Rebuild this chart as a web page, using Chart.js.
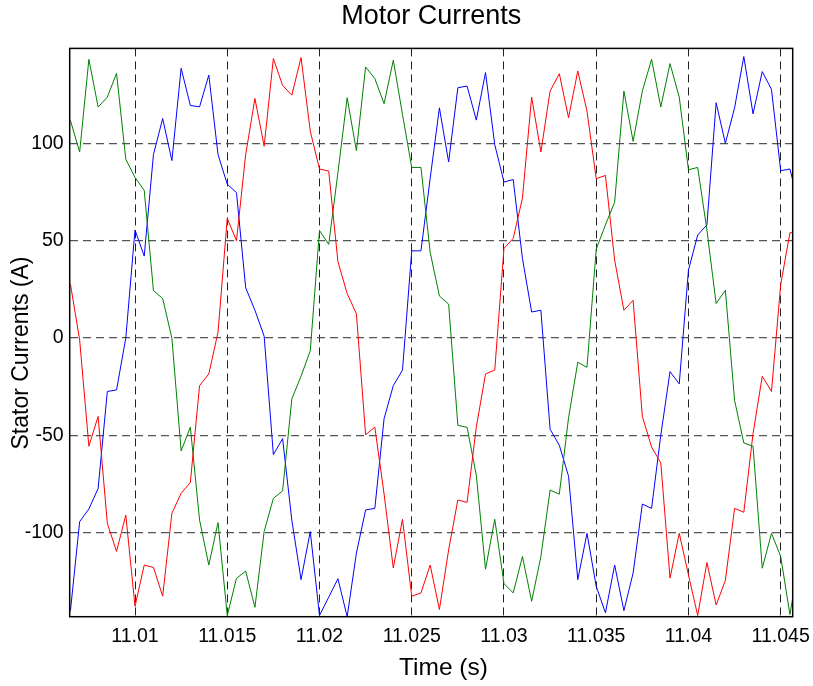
<!DOCTYPE html>
<html>
<head>
<meta charset="utf-8">
<script src="https://cdn.jsdelivr.net/npm/chart.js@4.4.1/dist/chart.umd.min.js"></script>
<style>
body{margin:0;background:#fff}
</style>
</head>
<body>
<canvas id="motorChart" width="813" height="686"></canvas>
<script>

// sampling: 2 kHz starting at 11.0065 s
let t0=11.0065
let dt=0.0005

let phaseA=[27.7,-1,-55.5,-40.2,-95.1,-109.5,-90.8,-137.7,-116.5,-117.7,
-132.5,-89.9,-79.7,-74.1,-24.4,-18.4,3,61.5,50,94.2,
123,98.5,143.5,129.7,124.7,144,106.2,86.8,85.7,39.2,
22.9,12.5,-49.6,-45.7,-80,-118,-93,-132.5,-130.8,-116.5,
-139.3,-108.7,-83.1,-84.3,-45.7,-18.4,-16.4,46,51.2,71.8,
123.7,95.5,126.8,135.7,113.1,137.1,116.5,81.8,83.5,40,
14.3,19.4,-40.2,-55.9,-64.1,-123.2,-100.2,-121.5,-142.4,-115.2,
-137,-124.4,-87.4,-89.4,-49,-19.6,-27.4,27.5,54.1,54]

let phaseB=[111.7,95.5,143.1,118.6,123.7,135.9,91.8,82.5,75.8,24.4,
20.3,0,-57.9,-45.7,-93.4,-116.5,-94.7,-142.4,-123.3,-119.6,
-138.2,-99.3,-82.3,-78.4,-31.2,-19.6,-6.5,55.2,48.1,85,
123.4,96.2,139.2,133.2,120.3,142.6,114.8,87.6,87.6,44,
21.6,17.4,-44.8,-45.8,-70.4,-118.6,-93,-126,-130.8,-112.1,
-135.1,-112.1,-78,-80.1,-40.9,-12.4,-15,45.7,58.1,69.8,
126.8,101,126.8,143.1,118.6,140.9,123.7,86.4,87.6,55.5,
17.7,24.6,-32,-53.8,-55.5,-118.1,-100.2,-112.1,-141.9,-114]

let phaseC=[-139.9,-94.2,-87.7,-77.2,-27.4,-26.6,0,55.5,42.1,94.2,
112.7,91.1,138.5,119.4,118.7,135,94.2,79,74.7,25.8,
14.3,1,-59.8,-51.6,-93.4,-124,-99.3,-142.4,-133,-123.5,
-143,-110.4,-88.2,-87.4,-41.4,-24.4,-16.4,44.8,44.8,82,
118.2,90.4,128.5,129.4,111.9,136.3,99.3,80.1,81.4,40.9,
13.4,14.3,-46.8,-55,-70.9,-124,-100.2,-127.4,-141,-116.5,
-139.9,-120.6,-85.2,-87.4,-49.9,-17.2,-23.5,34.9,52.9,58.1,
120.8,100,118.2,144.5,115.1,136.8,127.7,85.9,86.8,68]

let xTicks=[11.01,11.015,11.02,11.025,11.03,11.035,11.04,11.045]
let yTicks=[-100,-50,0,50,100]

let xMin=11.00646
let xMax=11.04565
let yMin=-143
let yMax=148.7

let family="'Liberation Sans', Arial, sans-serif"


let time=phaseA.map((v,i)=>+(t0+i*dt).toFixed(4))

function series(label,values,color){

return {
label:label,
data:values.map((v,i)=>({x:time[i],y:v})),
borderColor:color,
borderWidth:1,
pointRadius:0,
fill:false,
tension:0
}

}


// full black box round the plot
let frame={
id:"frame",
afterDatasetsDraw(chart){
let a=chart.chartArea
let ctx=chart.ctx
ctx.save()
ctx.strokeStyle="#000"
ctx.lineWidth=1.5
ctx.strokeRect(a.left,a.top,a.right-a.left,a.bottom-a.top)
ctx.restore()
}
}


new Chart(document.getElementById("motorChart"),{

type:'line',

data:{
datasets:[
series("Phase A",phaseA,"#ff0000"),
series("Phase B",phaseB,"#008000"),
series("Phase C",phaseC,"#0000ff")
]
},

options:{

responsive:false,
animation:false,

layout:{padding:{left:0,top:0,right:20.3,bottom:0}},

plugins:{
legend:{display:false},
tooltip:{enabled:false},
title:{
display:true,
text:"Motor Currents",
fullSize:false,
color:"#000",
font:{family:family,size:27,weight:'normal'},
padding:{top:0,bottom:16}
}
},

scales:{

x:{
type:'linear',
min:xMin,
max:xMax,
afterBuildTicks:s=>{s.ticks=xTicks.map(v=>({value:v}))},
afterFit:s=>{s.height=69.3;s.paddingLeft=0;s.paddingRight=0},
ticks:{
autoSkip:false,
maxRotation:0,
padding:8,
color:"#000",
font:{family:family,size:19.5},
callback:v=>String(+v.toFixed(3))
},
grid:{color:"#222",lineWidth:1,drawTicks:false},
border:{display:false,dash:[8,5]},
title:{
display:true,
text:"\u2002\u2002Time (s)",
color:"#000",
font:{family:family,size:24.5},
padding:{top:6,bottom:3.3}
}
},

y:{
min:yMin,
max:yMax,
afterBuildTicks:s=>{s.ticks=yTicks.map(v=>({value:v}))},
afterFit:s=>{s.width=69.7;s.paddingTop=0;s.paddingBottom=0},
ticks:{
padding:6,
color:"#000",
font:{family:family,size:19.5},
callback:v=>String(v)
},
grid:{color:"#555",lineWidth:1.3,drawTicks:false},
border:{display:false,dash:[8,5]},
title:{
display:true,
text:"Stator Currents (A)\u2002\u2002\u2002\u00a0",
color:"#000",
font:{family:family,size:23},
padding:{top:7.7,bottom:0}
}
}

}

},

plugins:[frame]

})

</script>
</body>
</html>
